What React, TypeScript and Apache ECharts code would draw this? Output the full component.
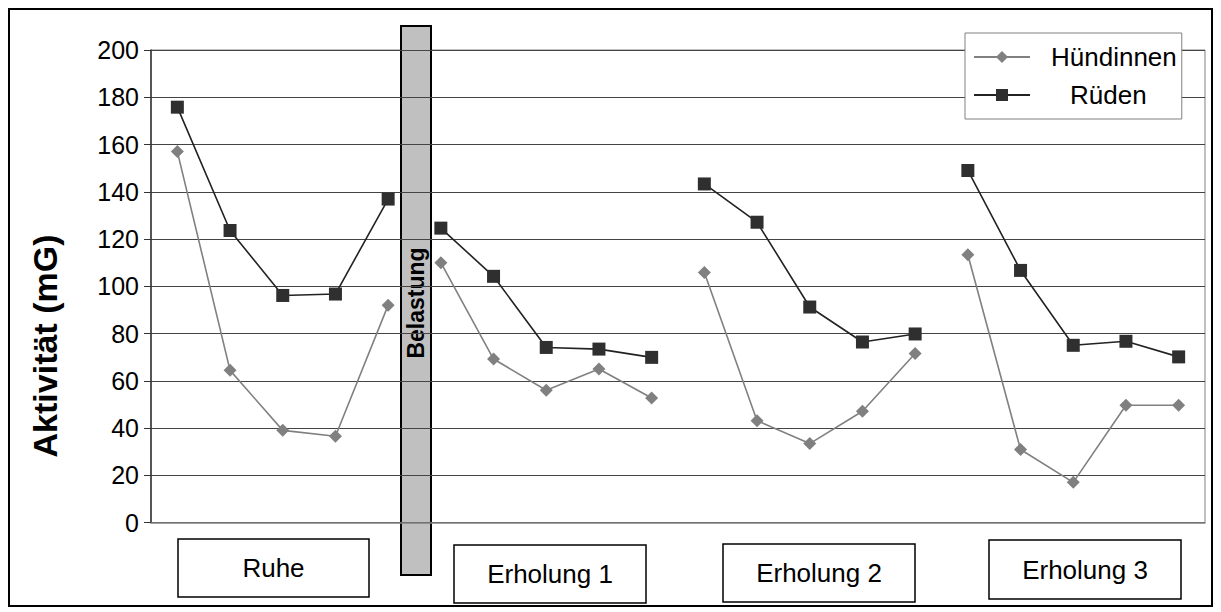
import React, { useEffect, useRef } from "react";
import * as echarts from "echarts";

// Phases of the measurement and the five readings within each phase
const phases = ["Ruhe", "Erholung 1", "Erholung 2", "Erholung 3"];
const readingsPerPhase = 5;
const categories = phases.flatMap((p) =>
  Array.from({ length: readingsPerPhase }, (_, i) => `${p} – ${i + 1}`)
);

// Activity (mG) per phase
const huendinnenRuhe = [157, 64.4, 39, 36.5, 92];
const huendinnenErholung1 = [110, 69.2, 56, 65, 52.7];
const huendinnenErholung2 = [105.8, 43.1, 33.4, 47.1, 71.5];
const huendinnenErholung3 = [113.3, 30.9, 17, 49.6, 49.6];

const ruedenRuhe = [175.8, 123.6, 96.1, 96.7, 136.9];
const ruedenErholung1 = [124.6, 104.2, 74.1, 73.4, 69.9];
const ruedenErholung2 = [143.3, 127.1, 91.2, 76.4, 79.8];
const ruedenErholung3 = [149, 106.7, 75, 76.7, 70.1];

const yTicks = [0, 20, 40, 60, 80, 100, 120, 140, 160, 180, 200];

const huendinnen = [huendinnenRuhe, huendinnenErholung1, huendinnenErholung2, huendinnenErholung3];
const rueden = [ruedenRuhe, ruedenErholung1, ruedenErholung2, ruedenErholung3];

const FONT = "'Liberation Sans', Arial, sans-serif";

// Spread one phase's readings over the shared category axis, leaving gaps elsewhere
function phaseData(values: number[], phaseIndex: number) {
  return categories.map((_, i) =>
    Math.floor(i / readingsPerPhase) === phaseIndex ? values[i % readingsPerPhase] : null
  );
}

// Frames holding the phase names below the plot
const phaseBoxes = [
  { x: 178, y: 539, w: 191, h: 58 },
  { x: 454, y: 545, w: 192, h: 58 },
  { x: 723, y: 544, w: 192, h: 58 },
  { x: 989, y: 540, w: 192, h: 59 },
];

export default function App() {
  const ref = useRef<HTMLDivElement>(null);

  useEffect(() => {
    if (!ref.current) return;
    const chart = echarts.init(ref.current, undefined, { renderer: "svg" });

    const femaleSeries = huendinnen.map((vals, k) => ({
      name: "Hündinnen",
      type: "line",
      data: phaseData(vals, k),
      connectNulls: false,
      symbol: "diamond",
      symbolSize: 13,
      itemStyle: { color: "#808080" },
      lineStyle: { color: "#808080", width: 1.6 },
      z: 3,
    }));
    const maleSeries = rueden.map((vals, k) => ({
      name: "Rüden",
      type: "line",
      data: phaseData(vals, k),
      connectNulls: false,
      symbol: "rect",
      symbolSize: 13,
      itemStyle: { color: "#2f2f2f" },
      lineStyle: { color: "#222222", width: 1.6 },
      z: 4,
    }));

    const boxGraphics = phaseBoxes.map((b, i) => ({
      type: "group",
      z: 20,
      children: [
        {
          type: "rect",
          shape: { x: b.x, y: b.y, width: b.w, height: b.h },
          style: { fill: "#ffffff", stroke: "#000000", lineWidth: 1.5 },
        },
        {
          type: "text",
          x: b.x + b.w / 2,
          y: b.y + b.h / 2,
          style: {
            text: phases[i],
            fill: "#000000",
            font: `26px ${FONT}`,
            textAlign: "center",
            textVerticalAlign: "middle",
          },
        },
      ],
    }));

    chart.setOption({
      animation: false,
      backgroundColor: "#ffffff",
      textStyle: { fontFamily: FONT },
      grid: {
        left: 151,
        right: 16,
        top: 50,
        bottom: 89.5,
        show: true,
        borderColor: "#808080",
        borderWidth: 1,
        backgroundColor: "transparent",
      },
      legend: {
        left: 965,
        top: 33,
        orient: "vertical",
        itemWidth: 56,
        itemHeight: 15,
        itemGap: 12,
        padding: [11, 5, 11, 8],
        backgroundColor: "#ffffff",
        borderColor: "#808080",
        borderWidth: 1,
        data: ["Hündinnen", "Rüden"],
        formatter: (name: string) => (name === "Rüden" ? `{r|${name}}` : `{h|${name}}`),
        textStyle: {
          fontSize: 26,
          color: "#000000",
          fontFamily: FONT,
          rich: {
            h: { fontSize: 26, fontFamily: FONT, padding: [0, 0, 0, 16] },
            r: { fontSize: 26, fontFamily: FONT, padding: [0, 0, 0, 35] },
          },
        },
        z: 15,
      },
      xAxis: {
        type: "category",
        data: categories,
        boundaryGap: true,
        axisLine: { show: true, lineStyle: { color: "#808080", width: 1.5 } },
        axisTick: { show: false },
        axisLabel: { show: false },
        splitLine: { show: false },
      },
      yAxis: {
        type: "value",
        min: yTicks[0],
        max: yTicks[yTicks.length - 1],
        interval: yTicks[1] - yTicks[0],
        axisLine: { show: true, lineStyle: { color: "#333333", width: 1.5 } },
        axisTick: { show: true, length: 7, lineStyle: { color: "#333333" } },
        axisLabel: { fontSize: 25, color: "#000000", margin: 12, fontFamily: FONT },
        splitLine: { show: true, lineStyle: { color: "#444444", width: 1 } },
      },
      series: [...femaleSeries, ...maleSeries],
      graphic: [
        {
          type: "rect",
          z: 0,
          shape: { x: 9, y: 9, width: 1203, height: 597 },
          style: { fill: "none", stroke: "#000000", lineWidth: 2 },
        },
        {
          type: "text",
          x: 45,
          y: 346,
          rotation: Math.PI / 2,
          style: {
            text: "Aktivität (mG)",
            fill: "#000000",
            font: `bold 34px ${FONT}`,
            textAlign: "center",
            textVerticalAlign: "middle",
          },
        },
        {
          type: "group",
          z: 20,
          children: [
            {
              type: "rect",
              shape: { x: 401, y: 26, width: 30, height: 549 },
              style: { fill: "#c0c0c0", stroke: "#000000", lineWidth: 2 },
            },
            {
              type: "text",
              x: 416,
              y: 303,
              rotation: Math.PI / 2,
              style: {
                text: "Belastung",
                fill: "#000000",
                font: `bold 23px ${FONT}`,
                textAlign: "center",
                textVerticalAlign: "middle",
              },
            },
          ],
        },
        ...boxGraphics,
      ],
    });

    return () => chart.dispose();
  }, []);

  return (
    <div
      ref={ref}
      style={{ position: "fixed", left: 0, top: 0, width: 1221, height: 612 }}
    />
  );
}
